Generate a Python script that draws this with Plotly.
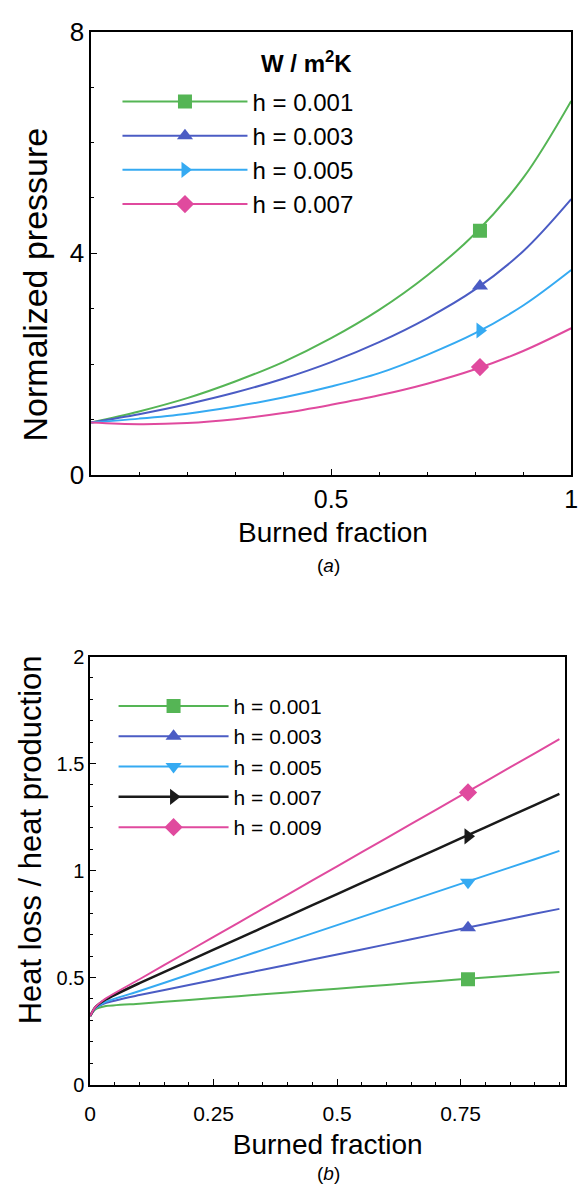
import plotly.graph_objects as go

W, H = 587, 1199
FONT = "Liberation Sans, Arial, Helvetica, sans-serif"

# ---------------- data: panel (a) ----------------
x_a = [0.0, 0.1, 0.2, 0.3, 0.4, 0.5, 0.6, 0.7, 0.8, 0.9, 1.0]
p_h001 = [0.95, 1.15, 1.39, 1.69, 2.04, 2.47, 2.98, 3.60, 4.36, 5.36, 6.75]
p_h003 = [0.95, 1.10, 1.28, 1.49, 1.74, 2.04, 2.40, 2.83, 3.35, 4.04, 4.98]
p_h005 = [0.95, 1.02, 1.11, 1.24, 1.40, 1.60, 1.84, 2.17, 2.56, 3.06, 3.70]
p_h007 = [0.95, 0.92, 0.94, 1.01, 1.12, 1.27, 1.44, 1.65, 1.91, 2.24, 2.65]
mark_x_a = 0.81
mark_y_a = [4.41, 3.41, 2.61, 1.95]
labels_a = ["h = 0.001", "h = 0.003", "h = 0.005", "h = 0.007"]

# ---------------- data: panel (b) ----------------
x_b = [0.0, 0.01, 0.03, 0.1, 0.2, 0.3, 0.4, 0.5, 0.6, 0.7, 0.8, 0.9, 0.95]
r_h001 = [0.32, 0.35, 0.366, 0.378, 0.395, 0.413, 0.43, 0.448, 0.465, 0.483, 0.50, 0.518, 0.526]
r_h003 = [0.32, 0.355, 0.38, 0.418, 0.465, 0.513, 0.56, 0.608, 0.655, 0.703, 0.75, 0.798, 0.821]
r_h005 = [0.32, 0.355, 0.385, 0.437, 0.514, 0.591, 0.668, 0.745, 0.822, 0.899, 0.976, 1.053, 1.092]
r_h007 = [0.32, 0.36, 0.395, 0.474, 0.578, 0.682, 0.786, 0.89, 0.994, 1.098, 1.202, 1.306, 1.358]
r_h009 = [0.32, 0.36, 0.40, 0.492, 0.624, 0.756, 0.888, 1.02, 1.152, 1.284, 1.416, 1.548, 1.614]
mark_x_b = 0.765
mark_y_b = [0.492, 0.733, 0.945, 1.16, 1.365]
labels_b = ["h = 0.001", "h = 0.003", "h = 0.005", "h = 0.007", "h = 0.009"]

GREEN, BLUE, LBLUE, PINK, BLACK = "#55b555", "#4b5cc4", "#35aaf2", "#e04a9e", "#1a1a1a"

colors_a = [GREEN, BLUE, LBLUE, PINK]
symbols_a = ["square", "triangle-up", "triangle-right", "diamond"]
series_a = [p_h001, p_h003, p_h005, p_h007]

colors_b = [GREEN, BLUE, LBLUE, BLACK, PINK]
symbols_b = ["square", "triangle-up", "triangle-down", "triangle-right", "diamond"]
series_b = [r_h001, r_h003, r_h005, r_h007, r_h009]

fig = go.Figure()

for ys, c, s, lab, my in zip(series_a, colors_a, symbols_a, labels_a, mark_y_a):
    fig.add_trace(go.Scatter(x=x_a, y=ys, mode="lines", line=dict(color=c, width=2, shape="spline"),
                             showlegend=False, xaxis="x", yaxis="y", hoverinfo="skip"))
    fig.add_trace(go.Scatter(x=[mark_x_a], y=[my], mode="lines+markers", name=lab,
                             line=dict(color=c, width=2),
                             marker=dict(symbol=s, size=14, color=c),
                             legend="legend", xaxis="x", yaxis="y"))

for ys, c, s, lab, my in zip(series_b, colors_b, symbols_b, labels_b, mark_y_b):
    w = 2.5 if c == BLACK else 2
    fig.add_trace(go.Scatter(x=x_b, y=ys, mode="lines", line=dict(color=c, width=w, shape="spline", smoothing=0.6),
                             showlegend=False, xaxis="x2", yaxis="y2", hoverinfo="skip"))
    fig.add_trace(go.Scatter(x=[mark_x_b], y=[my], mode="lines+markers", name=lab,
                             line=dict(color=c, width=w),
                             marker=dict(symbol=s, size=14, color=c),
                             legend="legend2", xaxis="x2", yaxis="y2"))


def px_x(p):
    return p / W


def px_y(p):
    return 1 - p / H


axis_common = dict(showline=True, linecolor="black", linewidth=1.5, mirror=True,
                   ticks="inside", ticklen=6, tickwidth=1.2, tickcolor="black",
                   showgrid=False, zeroline=False)

fig.update_layout(
    width=W, height=H, autosize=False,
    margin=dict(l=0, r=0, t=0, b=0),
    paper_bgcolor="white", plot_bgcolor="white",
    font=dict(family=FONT, color="black"),
    xaxis=dict(domain=[px_x(87), px_x(578)], range=[0, 1], anchor="y",
               tickvals=[0.5, 1], ticktext=["0.5", "1"], tickfont=dict(size=25),
               ticklabelstandoff=1,
               minor=dict(dtick=0.1, ticks="inside", ticklen=3, tickcolor="black"),
               **axis_common),
    yaxis=dict(domain=[px_y(472), px_y(17)], range=[0, 8], anchor="x",
               tickvals=[0, 4, 8], tickfont=dict(size=26),
               minor=dict(dtick=1, ticks="inside", ticklen=3, tickcolor="black"),
               **axis_common),
    xaxis2=dict(domain=[px_x(86), px_x(572)], range=[0, 0.962], anchor="y2",
                tickvals=[0, 0.25, 0.5, 0.75], ticktext=["0", "0.25", "0.5", "0.75"], tickfont=dict(size=21),
                ticklabelstandoff=9,
                minor=dict(dtick=0.05, ticks="inside", ticklen=3, tickcolor="black"),
                title=dict(text="Burned fraction", font=dict(size=28), standoff=11),
                **axis_common),
    yaxis2=dict(domain=[px_y(1097), px_y(658)], range=[0, 2], anchor="x2",
                tickvals=[0, 0.5, 1, 1.5, 2], ticktext=["0", "0.5", "1", "1.5", "2"], tickfont=dict(size=20),
                minor=dict(dtick=0.1, ticks="inside", ticklen=3, tickcolor="black"),
                **axis_common),
    legend=dict(x=px_x(114), y=px_y(66), xanchor="left", yanchor="top",
                bgcolor="rgba(0,0,0,0)", font=dict(size=24), itemwidth=125,
                tracegroupgap=0),
    legend2=dict(x=px_x(110), y=px_y(688), xanchor="left", yanchor="top",
                 bgcolor="rgba(0,0,0,0)", font=dict(size=21), itemwidth=110,
                 tracegroupgap=0),
    annotations=[
        dict(text="<b>W / m<sup>2</sup>K</b>", x=px_x(259), y=px_y(48), xref="paper", yref="paper",
             xanchor="left", yanchor="middle", showarrow=False, font=dict(size=24)),
        dict(text="Burned fraction", x=px_x(334), y=px_y(531), xref="paper", yref="paper",
             xanchor="center", yanchor="middle", showarrow=False, font=dict(size=28)),
        dict(text="Normalized pressure", x=px_x(30), y=px_y(276), xref="paper", yref="paper",
             xanchor="center", yanchor="middle", textangle=-90, showarrow=False, font=dict(size=34)),
        dict(text="Heat loss / heat production", x=px_x(25), y=px_y(846), xref="paper", yref="paper",
             xanchor="center", yanchor="middle", textangle=-90, showarrow=False, font=dict(size=31)),
        dict(text="(<i>a</i>)", x=px_x(330), y=px_y(565), xref="paper", yref="paper",
             xanchor="center", yanchor="middle", showarrow=False, font=dict(size=19)),
        dict(text="(<i>b</i>)", x=px_x(330), y=px_y(1188), xref="paper", yref="paper",
             xanchor="center", yanchor="middle", showarrow=False, font=dict(size=19)),
    ],
)

fig.write_html("out.html")
